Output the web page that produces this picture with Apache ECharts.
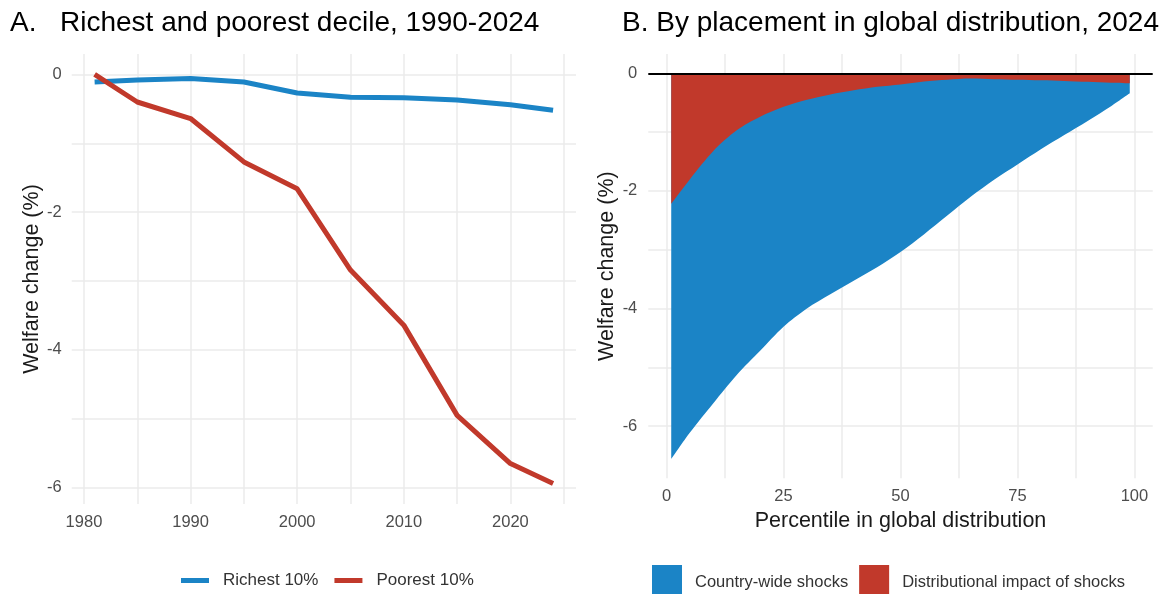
<!DOCTYPE html>
<html>
<head>
<meta charset="utf-8">
<script src="https://cdn.jsdelivr.net/npm/echarts@6/dist/echarts.min.js"></script>
<style>
  html, body { margin: 0; padding: 0; background: #ffffff; }
  #chart { width: 1173px; height: 594px; }
</style>
</head>
<body>
<div id="chart"></div>
<script>
// Panel A: welfare change of the richest and poorest decile, by year
const years = [1981, 1985, 1990, 1995, 2000, 2005, 2010, 2015, 2020, 2024];
const richest10 = [-0.11, -0.08, -0.06, -0.11, -0.27, -0.33, -0.34, -0.37, -0.44, -0.52];
const poorest10 = [0.00, -0.40, -0.64, -1.27, -1.66, -2.84, -3.64, -4.95, -5.65, -5.94];
const yearTicks = [1980, 1985, 1990, 1995, 2000, 2005, 2010, 2015, 2020, 2025];
const yearLabels = [1980, 1990, 2000, 2010, 2020];
const welfareTicks = [-6, -5, -4, -3, -2, -1, 0];
const welfareLabels = [-6, -4, -2, 0];

// Panel B: 2024 welfare change across the global distribution
const percentiles = [1, 5, 10, 15, 20, 25, 30, 35, 40, 45, 50, 55, 60, 65, 70, 75, 80, 85, 90, 95, 99];
const countryWide = [-4.34, -4.31, -4.29, -4.16, -3.98, -3.74, -3.55, -3.40, -3.24, -3.07, -2.85,
                     -2.60, -2.31, -2.01, -1.71, -1.44, -1.17, -0.92, -0.665, -0.40, -0.17];
const distributional = [-2.22, -1.80, -1.32, -0.97, -0.74, -0.57, -0.45, -0.36, -0.29, -0.23, -0.19,
                        -0.14, -0.11, -0.09, -0.10, -0.11, -0.12, -0.13, -0.145, -0.16, -0.17];
const percentileTicks = [0, 12.5, 25, 37.5, 50, 62.5, 75, 87.5, 100];
const percentileLabels = [0, 25, 50, 75, 100];

const BLUE = '#1b84c6';
const RED = '#c1392b';
const GRID = '#ebebeb';
const FONT = '"Liberation Sans", Arial, sans-serif';

// 5% padding on both sides of a data range
function padded(values) {
  const lo = Math.min(...values), hi = Math.max(...values);
  const r = hi - lo;
  return [lo - 0.05 * r, hi + 0.05 * r];
}

// Combined effect: the country-wide band sits below the distributional band
const totals = countryWide.map((v, i) => v + distributional[i]);

const xA = padded(years);
const yA = padded(richest10.concat(poorest10));
const xB = padded(percentiles);
const yB = padded(totals.concat([0]));

const pairs = (xs, ys) => xs.map((x, i) => [x, ys[i]]);

const tickLabel = { color: '#4d4d4d', fontSize: 16.5, fontFamily: FONT, formatter: v => String(v) };
const axisTitle = { color: '#1a1a1a', fontSize: 21.5, fontFamily: FONT };
const gridLine = { show: true, lineStyle: { color: GRID, width: 1.5 } };
const titleText = { fontSize: 28, fontWeight: 'normal', color: '#000', fontFamily: FONT };

function valueAxis(extra) {
  return Object.assign({
    type: 'value',
    axisLine: { show: false },
    splitLine: gridLine,
    nameTextStyle: axisTitle
  }, extra);
}

const option = {
  backgroundColor: '#ffffff',
  animation: false,
  textStyle: { fontFamily: FONT },
  title: [
    { text: 'A.', left: 5, top: 4, textStyle: titleText },
    { text: 'Richest and poorest decile, 1990-2024', left: 55, top: 4, textStyle: titleText },
    { text: 'B. By placement in global distribution, 2024', left: 617, top: 4, textStyle: titleText }
  ],
  legend: [
    {
      data: ['Richest 10%', 'Poorest 10%'],
      left: 181, top: 572, padding: 0,
      icon: 'rect', itemWidth: 28, itemHeight: 5, itemGap: 16,
      textStyle: { fontSize: 17, color: '#333333', fontFamily: FONT, padding: [0, 0, 0, 9] }
    },
    {
      data: ['Country-wide shocks', 'Distributional impact of shocks'],
      left: 652, top: 565, padding: 0,
      icon: 'rect', itemWidth: 30, itemHeight: 34, itemGap: 11,
      textStyle: { fontSize: 16.5, color: '#333333', fontFamily: FONT, padding: [6, 0, 0, 8] }
    }
  ],
  grid: [
    { left: 71.7, top: 54, width: 504.3, height: 450 },
    { left: 648.3, top: 54, width: 504.4, height: 424.3 }
  ],
  xAxis: [
    valueAxis({
      gridIndex: 0, min: xA[0], max: xA[1],
      axisTick: { show: false, customValues: yearTicks },
      axisLabel: Object.assign({ customValues: yearLabels, margin: 10 }, tickLabel)
    }),
    valueAxis({
      gridIndex: 1, min: xB[0], max: xB[1],
      name: 'Percentile in global distribution', nameLocation: 'middle', nameGap: 30,
      axisTick: { show: false, customValues: percentileTicks },
      axisLabel: Object.assign({ customValues: percentileLabels, margin: 10 }, tickLabel)
    })
  ],
  yAxis: [
    valueAxis({
      gridIndex: 0, min: yA[0], max: yA[1],
      name: 'Welfare change (%)', nameLocation: 'middle', nameGap: 28,
      axisTick: { show: false, customValues: welfareTicks },
      axisLabel: Object.assign({ customValues: welfareLabels, margin: 10 }, tickLabel)
    }),
    valueAxis({
      gridIndex: 1, min: yB[0], max: yB[1],
      name: 'Welfare change (%)', nameLocation: 'middle', nameGap: 30,
      axisTick: { show: false, customValues: welfareTicks },
      axisLabel: Object.assign({ customValues: welfareLabels, margin: 11 }, tickLabel)
    })
  ],
  series: [
    {
      name: 'Richest 10%', type: 'line', xAxisIndex: 0, yAxisIndex: 0,
      data: pairs(years, richest10), showSymbol: false, symbol: 'none',
      itemStyle: { color: BLUE }, lineStyle: { color: BLUE, width: 5 }
    },
    {
      name: 'Poorest 10%', type: 'line', xAxisIndex: 0, yAxisIndex: 0,
      data: pairs(years, poorest10), showSymbol: false, symbol: 'none',
      itemStyle: { color: RED }, lineStyle: { color: RED, width: 5 }
    },
    {
      // full depth of the change; the distributional band is layered over its top part
      name: 'Country-wide shocks', type: 'line', xAxisIndex: 1, yAxisIndex: 1,
      data: pairs(percentiles, totals),
      smooth: 0.3, showSymbol: false, symbol: 'none',
      itemStyle: { color: BLUE }, lineStyle: { width: 0 },
      areaStyle: { color: BLUE, opacity: 1, origin: 0 }
    },
    {
      name: 'Distributional impact of shocks', type: 'line', xAxisIndex: 1, yAxisIndex: 1,
      data: pairs(percentiles, distributional),
      smooth: 0.3, showSymbol: false, symbol: 'none',
      itemStyle: { color: RED }, lineStyle: { width: 0 },
      areaStyle: { color: RED, opacity: 1, origin: 0 },
      markLine: {
        silent: true, symbol: 'none', label: { show: false },
        lineStyle: { color: '#000000', width: 2, type: 'solid' },
        data: [{ yAxis: 0 }]
      }
    }
  ]
};

const chart = echarts.init(document.getElementById('chart'), null, { renderer: 'canvas' });
chart.setOption(option);
</script>
</body>
</html>
